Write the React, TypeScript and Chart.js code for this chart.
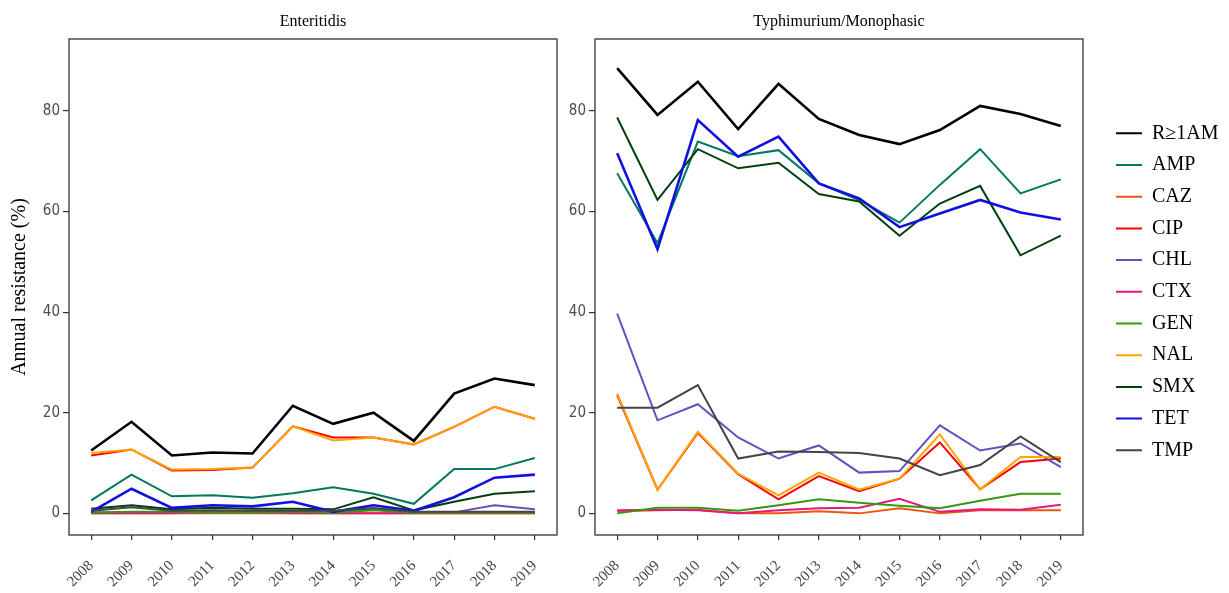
import React, { useEffect, useRef } from "react";
import { Chart, registerables } from "chart.js";

Chart.register(...registerables);

// ---------- data ----------
const years = [2008, 2009, 2010, 2011, 2012, 2013, 2014, 2015, 2016, 2017, 2018, 2019];
const yTickValues = [0, 20, 40, 60, 80];
const panelTitles = ["Enteritidis", "Typhimurium/Monophasic"];
const yAxisTitle = "Annual resistance (%)";

const seriesNames = ["R≥1AM", "AMP", "CAZ", "CIP", "CHL", "CTX", "GEN", "NAL", "SMX", "TET", "TMP"];
const seriesColors = ["#000000", "#00775F", "#EE5511", "#FF0000", "#6052C0", "#E8177D", "#339911", "#FFA500", "#013F0F", "#1010E0", "#444444"];
const seriesWidths = [2.6, 2, 2, 2, 2, 2, 2, 2, 2, 2.6, 2];

// Enteritidis
const entR1AM = [12.5, 18.2, 11.5, 12.1, 11.9, 21.4, 17.8, 20.0, 14.4, 23.8, 26.8, 25.5];
const entAMP = [2.6, 7.7, 3.4, 3.6, 3.1, 4.0, 5.2, 3.9, 1.9, 8.8, 8.8, 11.0];
const entCAZ = [0, 0, 0, 0, 0, 0, 0, 0, 0, 0, 0, 0];
const entCIP = [11.5, 12.7, 8.5, 8.6, 9.1, 17.3, 15.1, 15.1, 13.7, 17.2, 21.2, 18.8];
const entCHL = [0.2, 0.2, 0.1, 0.2, 0.2, 0.1, 0.2, 1.0, 0.2, 0.2, 1.6, 0.8];
const entCTX = [0, 0, 0, 0.3, 0.3, 0, 0, 0, 0, 0, 0, 0];
const entGEN = [0.1, 0.3, 0.3, 0.2, 0.2, 0.3, 0.1, 0.6, 0.1, 0.1, 0.1, 0.1];
const entNAL = [12.0, 12.7, 8.7, 8.8, 9.1, 17.3, 14.5, 15.1, 13.7, 17.2, 21.2, 18.8];
const entSMX = [0.9, 1.6, 0.8, 1.1, 0.9, 0.9, 0.8, 3.2, 0.6, 2.3, 3.9, 4.4];
const entTET = [0.3, 4.9, 1.1, 1.6, 1.4, 2.3, 0.3, 1.6, 0.5, 3.2, 7.1, 7.7];
const entTMP = [0.5, 1.2, 0.5, 0.6, 0.5, 0.5, 0.5, 1.0, 0.3, 0.3, 0.3, 0.3];

// Typhimurium / Monophasic
const typR1AM = [88.5, 79.2, 85.8, 76.4, 85.4, 78.4, 75.2, 73.4, 76.2, 81.0, 79.4, 77.0];
const typAMP = [67.6, 53.7, 73.9, 71.0, 72.2, 65.6, 62.3, 57.8, 65.3, 72.4, 63.6, 66.4];
const typCAZ = [0.4, 0.6, 0.7, 0, 0, 0.4, 0, 1.0, 0, 0.6, 0.6, 0.6];
const typCIP = [23.5, 4.7, 16.0, 7.8, 2.8, 7.4, 4.4, 6.9, 14.1, 4.8, 10.2, 10.9];
const typCHL = [39.7, 18.5, 21.7, 15.1, 10.9, 13.5, 8.1, 8.4, 17.5, 12.5, 13.9, 9.2];
const typCTX = [0.6, 0.7, 0.6, 0, 0.6, 1.0, 1.1, 2.9, 0.3, 0.8, 0.7, 1.7];
const typGEN = [0, 1.1, 1.1, 0.5, 1.6, 2.8, 2.1, 1.5, 1.0, 2.5, 3.9, 3.9];
const typNAL = [23.8, 4.7, 16.2, 7.9, 3.6, 8.1, 4.7, 6.9, 15.7, 4.8, 11.2, 11.2];
const typSMX = [78.7, 62.3, 72.4, 68.6, 69.7, 63.5, 62.0, 55.2, 61.6, 65.1, 51.3, 55.2];
const typTET = [71.6, 52.5, 78.2, 70.9, 74.9, 65.6, 62.6, 56.9, 59.6, 62.3, 59.8, 58.4];
const typTMP = [21.0, 21.0, 25.5, 10.9, 12.3, 12.2, 12.0, 10.9, 7.6, 9.6, 15.3, 10.2];

const entSeries = [entR1AM, entAMP, entCAZ, entCIP, entCHL, entCTX, entGEN, entNAL, entSMX, entTET, entTMP];
const typSeries = [typR1AM, typAMP, typCAZ, typCIP, typCHL, typCTX, typGEN, typNAL, typSMX, typTET, typTMP];

// ---------- styling ----------
const SERIF = '"Liberation Serif", "Times New Roman", serif';
const NARROW = '"Liberation Sans Narrow", "DejaVu Sans Condensed", sans-serif';
const AXIS_COLOR = "#333333";

const boxPlugin = {
  id: "panelBox",
  afterDatasetsDraw(chart: any) {
    const { ctx, chartArea } = chart;
    ctx.save();
    ctx.strokeStyle = AXIS_COLOR;
    ctx.lineWidth = 1.3;
    ctx.strokeRect(chartArea.left, chartArea.top, chartArea.right - chartArea.left, chartArea.bottom - chartArea.top);
    ctx.restore();
  },
};

function buildDatasets(series: number[][]) {
  const n = series.length;
  return series.map((vals, i) => ({
    label: seriesNames[i],
    data: years.map((yr, j) => ({ x: yr, y: vals[j] })),
    borderColor: seriesColors[i],
    backgroundColor: seriesColors[i],
    borderWidth: seriesWidths[i],
    pointRadius: 0,
    tension: 0,
    order: n - i,
  }));
}

function makeConfig(panel: number): any {
  const isLeft = panel === 0;
  const scales: any = {
    x: {
      type: "linear",
      min: 2007.45,
      max: 2019.55,
      afterBuildTicks: (scale: any) => {
        scale.ticks = years.map((v) => ({ value: v }));
      },
      afterFit: (scale: any) => {
        scale.height = 58;
        scale.paddingLeft = 0;
        scale.paddingRight = 0;
      },
      ticks: {
        autoSkip: false,
        minRotation: 45,
        maxRotation: 45,
        padding: 17,
        color: "#444444",
        font: { family: SERIF, size: 15 },
        callback: (v: any) => String(v),
      },
      grid: { display: true, drawOnChartArea: false, drawTicks: true, tickLength: 5, color: AXIS_COLOR, lineWidth: 1.2 },
      border: { display: false },
    },
    y: {
      type: "linear",
      min: -4.3,
      max: 94.3,
      afterBuildTicks: (scale: any) => {
        scale.ticks = yTickValues.map((v) => ({ value: v }));
      },
      afterFit: (scale: any) => {
        scale.width = isLeft ? 69 : 35;
      },
      ticks: {
        padding: 3,
        color: "#4d4d4d",
        font: { family: NARROW, size: 15 },
        callback: (v: any) => String(v),
      },
      grid: { display: true, drawOnChartArea: false, drawTicks: true, tickLength: 6, color: AXIS_COLOR, lineWidth: 1.2 },
      border: { display: false },
      title: isLeft
        ? { display: true, text: yAxisTitle, color: "#000", font: { family: SERIF, size: 20 }, padding: { top: 8, bottom: 0 } }
        : { display: false },
    },
  };
  if (!isLeft) {
    scales.spacer = {
      type: "linear",
      position: "right",
      display: true,
      min: 0,
      max: 1,
      afterFit: (scale: any) => {
        scale.width = 21.3;
      },
      ticks: { display: false },
      grid: { display: false },
      border: { display: false },
    };
  }
  return {
    type: "line",
    data: { datasets: buildDatasets(isLeft ? entSeries : typSeries) },
    options: {
      responsive: false,
      animation: false,
      events: [],
      devicePixelRatio: 1,
      layout: { padding: { left: 0, right: isLeft ? 3 : 4.7, top: 0, bottom: 0 } },
      scales,
      plugins: {
        tooltip: { enabled: false },
        title: {
          display: true,
          text: panelTitles[panel],
          fullSize: false,
          color: "#000",
          font: { family: SERIF, size: 16, weight: "normal" },
          padding: { top: 12.4, bottom: 7.4 },
        },
        legend: isLeft
          ? { display: false }
          : {
              display: true,
              position: "right",
              align: "start",
              maxWidth: 120,
              title: { display: true, text: "", font: { size: 10 }, padding: { top: 99.6, bottom: 0 } },
              labels: {
                boxWidth: 26,
                boxHeight: 2,
                padding: 11.7,
                color: "#000",
                font: { family: SERIF, size: 20 },
                generateLabels: (chart: any) => {
                  const items = (Chart as any).defaults.plugins.legend.labels.generateLabels(chart);
                  return items
                    .sort((a: any, b: any) => a.datasetIndex - b.datasetIndex)
                    .map((it: any) => ({ ...it, fillStyle: it.strokeStyle, lineWidth: 0 }));
                },
              },
            },
      },
    },
    plugins: [boxPlugin],
  };
}

export default function App() {
  const leftRef = useRef<HTMLCanvasElement>(null);
  const rightRef = useRef<HTMLCanvasElement>(null);
  useEffect(() => {
    const c1 = new Chart(leftRef.current as HTMLCanvasElement, makeConfig(0));
    const c2 = new Chart(rightRef.current as HTMLCanvasElement, makeConfig(1));
    return () => {
      c1.destroy();
      c2.destroy();
    };
  }, []);
  return (
    <div style={{ position: "absolute", left: 0, top: 0, width: 1229, height: 593, background: "#fff", overflow: "hidden" }}>
      <canvas ref={leftRef} width={560} height={593} style={{ position: "absolute", left: 0, top: 0 }} />
      <canvas ref={rightRef} width={669} height={593} style={{ position: "absolute", left: 560, top: 0 }} />
    </div>
  );
}
